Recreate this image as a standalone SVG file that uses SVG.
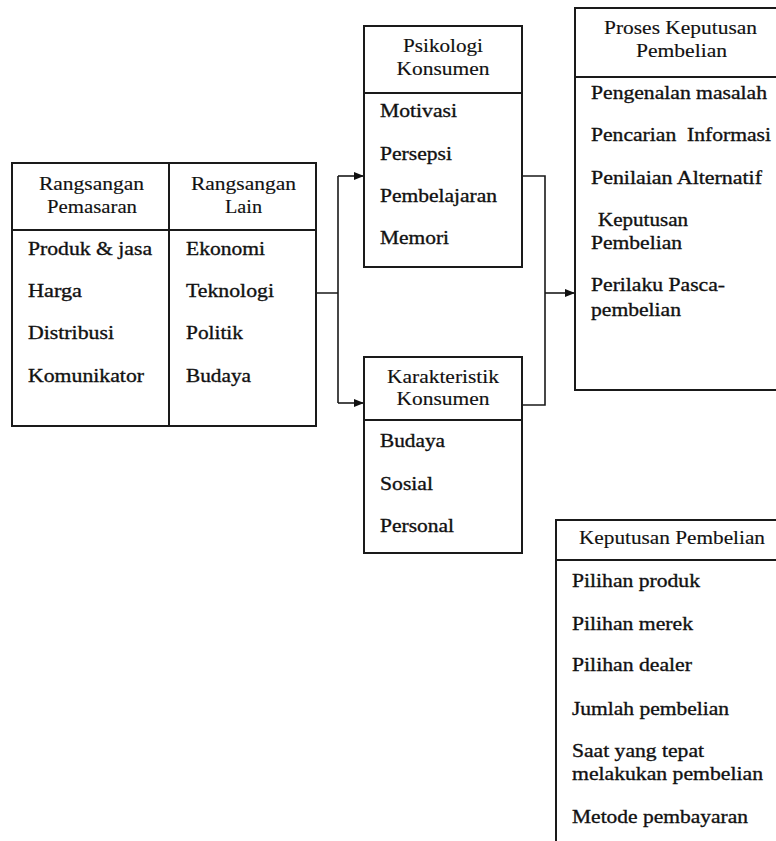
<svg xmlns="http://www.w3.org/2000/svg" width="776" height="841" viewBox="0 0 776 841" font-family="'Liberation Serif', serif">
<style>
.box{fill:#fff;stroke:#1a1a1a;stroke-width:2}
.ln{fill:none;stroke:#1a1a1a;stroke-width:2}
.cn{fill:none;stroke:#1a1a1a;stroke-width:1.6}
text{font-family:'Liberation Serif',serif;font-size:19.5px;fill:#111;stroke:#111;stroke-width:0.35}
.h{text-anchor:middle;stroke-width:0.15}
</style>
<defs>
<marker id="arr" viewBox="0 0 10 10" refX="10" refY="5" markerWidth="10" markerHeight="10" markerUnits="userSpaceOnUse" orient="auto">
<path d="M0,1 L10,5 L0,9 Z" fill="#111"/>
</marker>
</defs>
<rect width="776" height="841" fill="#fff"/>

<g id="connectors">
<path class="cn" d="M316,293 H338 M338,176 V403"/>
<path class="cn" d="M338,176 H364" marker-end="url(#arr)"/>
<path class="cn" d="M338,403 H364" marker-end="url(#arr)"/>
<path class="cn" d="M522,176 H545 V405 H522"/>
<path class="cn" d="M545,293 H575" marker-end="url(#arr)"/>
</g>

<g id="rangsangan">
<rect class="box" x="12" y="163" width="304" height="263"/>
<path class="ln" d="M169,163 V426 M12,230 H316"/>
<text class="h" x="91.5" y="190" textLength="105" lengthAdjust="spacingAndGlyphs">Rangsangan</text>
<text class="h" x="92" y="213" textLength="90" lengthAdjust="spacingAndGlyphs">Pemasaran</text>
<text class="h" x="243.5" y="190" textLength="105" lengthAdjust="spacingAndGlyphs">Rangsangan</text>
<text class="h" x="243.5" y="213" textLength="37" lengthAdjust="spacingAndGlyphs">Lain</text>
<text x="28" y="255" textLength="124" lengthAdjust="spacingAndGlyphs">Produk &amp; jasa</text>
<text x="28" y="297" textLength="54" lengthAdjust="spacingAndGlyphs">Harga</text>
<text x="28" y="339" textLength="86" lengthAdjust="spacingAndGlyphs">Distribusi</text>
<text x="28" y="382" textLength="116" lengthAdjust="spacingAndGlyphs">Komunikator</text>
<text x="186" y="255" textLength="79" lengthAdjust="spacingAndGlyphs">Ekonomi</text>
<text x="186" y="297" textLength="88" lengthAdjust="spacingAndGlyphs">Teknologi</text>
<text x="186" y="339" textLength="57" lengthAdjust="spacingAndGlyphs">Politik</text>
<text x="186" y="382" textLength="65" lengthAdjust="spacingAndGlyphs">Budaya</text>
</g>

<g id="psikologi">
<rect class="box" x="364" y="26" width="158" height="241"/>
<path class="ln" d="M364,93 H522"/>
<text class="h" x="443" y="52" textLength="80" lengthAdjust="spacingAndGlyphs">Psikologi</text>
<text class="h" x="443" y="75" textLength="93" lengthAdjust="spacingAndGlyphs">Konsumen</text>
<text x="380" y="117" textLength="77" lengthAdjust="spacingAndGlyphs">Motivasi</text>
<text x="380" y="160" textLength="72" lengthAdjust="spacingAndGlyphs">Persepsi</text>
<text x="380" y="202" textLength="117" lengthAdjust="spacingAndGlyphs">Pembelajaran</text>
<text x="380" y="244" textLength="69" lengthAdjust="spacingAndGlyphs">Memori</text>
</g>

<g id="karakteristik">
<rect class="box" x="364" y="357" width="158" height="196"/>
<path class="ln" d="M364,420 H522"/>
<text class="h" x="443" y="383" textLength="112" lengthAdjust="spacingAndGlyphs">Karakteristik</text>
<text class="h" x="443" y="405" textLength="93" lengthAdjust="spacingAndGlyphs">Konsumen</text>
<text x="380" y="447" textLength="65" lengthAdjust="spacingAndGlyphs">Budaya</text>
<text x="380" y="490" textLength="53" lengthAdjust="spacingAndGlyphs">Sosial</text>
<text x="380" y="532" textLength="74" lengthAdjust="spacingAndGlyphs">Personal</text>
</g>

<g id="proses">
<rect class="box" x="575" y="8" width="220" height="382"/>
<path class="ln" d="M575,77 H795"/>
<text class="h" x="680.5" y="34" textLength="153" lengthAdjust="spacingAndGlyphs">Proses Keputusan</text>
<text class="h" x="681.5" y="57" textLength="91" lengthAdjust="spacingAndGlyphs">Pembelian</text>
<text x="591" y="99" textLength="176" lengthAdjust="spacingAndGlyphs">Pengenalan masalah</text>
<text x="591" y="141" textLength="180" lengthAdjust="spacingAndGlyphs" xml:space="preserve">Pencarian  Informasi</text>
<text x="591" y="184" textLength="171" lengthAdjust="spacingAndGlyphs">Penilaian Alternatif</text>
<text x="598" y="226" textLength="90" lengthAdjust="spacingAndGlyphs">Keputusan</text>
<text x="591" y="249" textLength="91" lengthAdjust="spacingAndGlyphs">Pembelian</text>
<text x="591" y="291" textLength="134" lengthAdjust="spacingAndGlyphs">Perilaku Pasca-</text>
<text x="591" y="316" textLength="90" lengthAdjust="spacingAndGlyphs">pembelian</text>
</g>

<g id="keputusan">
<rect class="box" x="556" y="520" width="240" height="340"/>
<path class="ln" d="M556,560 H796"/>
<text class="h" x="672" y="544" textLength="186" lengthAdjust="spacingAndGlyphs">Keputusan Pembelian</text>
<text x="572" y="587" textLength="128" lengthAdjust="spacingAndGlyphs">Pilihan produk</text>
<text x="572" y="630" textLength="121" lengthAdjust="spacingAndGlyphs">Pilihan merek</text>
<text x="572" y="671" textLength="120" lengthAdjust="spacingAndGlyphs">Pilihan dealer</text>
<text x="572" y="715" textLength="157" lengthAdjust="spacingAndGlyphs">Jumlah pembelian</text>
<text x="572" y="757" textLength="132" lengthAdjust="spacingAndGlyphs">Saat yang tepat</text>
<text x="572" y="780" textLength="191" lengthAdjust="spacingAndGlyphs">melakukan pembelian</text>
<text x="572" y="823" textLength="176" lengthAdjust="spacingAndGlyphs">Metode pembayaran</text>
</g>
</svg>
